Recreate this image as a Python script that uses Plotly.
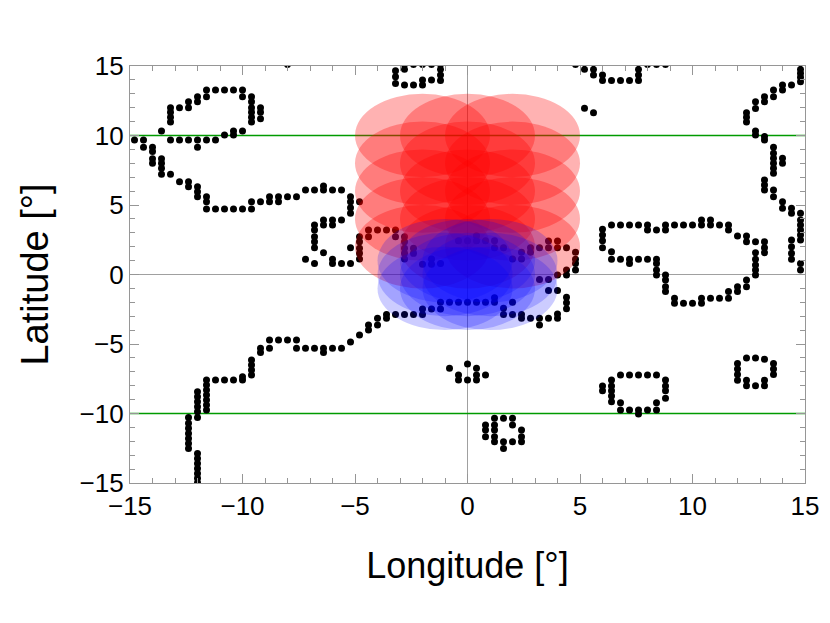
import plotly.graph_objects as go

# ---------------- data (lon, lat) in degrees ----------------
upper_left_loop = [(-11.6,13.27),(-11.2,13.27),(-10.8,13.27),(-10.4,13.27),(-10.0,13.27),
    (-11.6,12.79),(-10.0,12.79),(-9.6,12.79),(-12.0,12.79),(-12.0,12.43),
    (-12.4,12.43),(-12.4,12.0),(-12.8,12.0),(-13.2,12.0),(-13.2,11.67),(-13.2,11.31),(-13.2,10.97),
    (-13.6,10.32),(-9.6,12.43),(-9.6,12.0),(-9.6,11.67),(-9.6,11.31),(-9.6,10.97),
    (-9.2,12.0),(-9.2,11.67),(-9.2,11.2),(-10.0,10.32),(-10.4,10.32),(-10.4,10.04),(-10.8,10.04),
    (-13.2,9.68),(-12.8,9.68),(-12.4,9.68),(-12.0,9.68),(-12.0,9.15),(-11.6,9.68),(-11.2,9.68)]

left_coast_north = [(-14.8,9.68),(-14.4,9.68),(-14.4,9.15),(-14.0,9.15),(-14.0,8.84),(-14.0,8.33),
    (-14.0,8.0),(-13.6,8.33),(-13.6,8.0),(-13.6,7.64),(-13.6,7.21),(-13.2,7.21),(-12.8,6.68),
    (-12.4,6.68),(-12.4,6.32),(-12.0,6.32),(-12.0,5.96),(-12.0,5.6),(-11.6,5.6),(-11.6,5.24),
    (-11.6,4.71),(-11.2,4.71),(-10.8,4.71),(-10.4,4.71),(-10.0,4.71),(-9.6,4.71),(-9.6,5.24),
    (-9.2,5.24),(-8.8,5.6),(-8.8,5.24),(-8.4,5.6),(-8.4,5.24),(-8.0,5.6),(-7.6,5.6),(-7.2,6.08),
    (-6.8,6.08),(-6.4,6.37),(-6.4,6.08),(-6.0,6.08),(-5.6,6.08),(-5.2,5.6),(-5.2,5.24),(-5.2,4.8),
    (-5.2,4.4),(-4.8,5.24),(-8.0,15.1)]

small_ring_west = [(-7.2,1.09),(-6.8,3.56),(-6.8,3.2),(-6.8,2.72),(-6.8,2.36),(-6.8,1.93),(-6.8,0.8),
    (-6.4,3.92),(-6.4,3.56),(-6.4,1.57),(-6.0,3.92),(-6.0,3.56),(-6.0,1.09),(-6.0,0.8),
    (-5.6,3.92),(-5.6,0.8),(-5.2,0.8),(-5.2,1.93)]

central_north = [(-4.8,2.72),(-4.8,2.36),(-4.8,1.88),(-4.8,1.52),(-4.8,1.12),(-4.4,3.2),(-4.4,2.72),
    (-4.0,3.2),(-3.6,3.2),(-3.2,3.2),(-3.2,2.72),(-2.8,2.72),(-2.8,2.36),(-2.8,1.88),(-2.8,1.52),
    (-2.8,1.12),(-2.4,1.88),(-2.4,1.52),(-2.0,0.73),(-1.6,0.73),(-1.6,1.12),(-1.2,0.8),
    (-0.4,2.43),(0.0,2.43),(0.4,2.43),(0.4,2.79),(0.8,2.43),(1.2,2.43),(1.2,1.93),(1.6,1.93),
    (2.0,1.12),(2.4,1.12),(2.4,1.6),(2.8,1.6),(2.8,1.93),(3.2,1.93),(3.6,1.93),(3.6,2.41),
    (4.0,1.93),(4.0,2.41),(4.4,1.93),(4.8,1.6),(4.8,1.09),(4.8,0.8),(4.8,0.32),(4.4,0.32),
    (4.4,-0.04),(4.0,-0.04),(3.6,-0.36),(3.2,-0.36),(3.6,-1.15),(4.0,-1.15)]

central_south = [(4.4,-1.63),(4.4,-2.03),(4.4,-2.47),(4.0,-2.85),(4.0,-3.15),(3.6,-3.15),(3.2,-3.15),
    (3.2,-3.63),(2.8,-3.15),(2.4,-3.15),(2.4,-2.87),(2.0,-2.87),(1.6,-2.87),(1.6,-2.43),
    (2.0,-2.0),(1.2,-1.67),(1.2,-2.0),(0.8,-2.0),(0.4,-2.0),(0.0,-2.0),(-0.4,-2.0),(-0.8,-2.0),
    (-1.2,-2.0),(-1.2,-2.48),(-1.6,-2.48),(-2.0,-2.48),(-2.0,-2.87),(-2.4,-2.87),(-2.8,-2.87),
    (-3.2,-2.87),(-3.6,-2.87),(-3.6,-3.15),(-4.0,-3.15),(-4.0,-3.63),(-4.4,-3.63),(-4.4,-3.99),
    (-4.8,-4.35),(-5.2,-4.85)]

left_coast_south = [(-5.6,-5.31),(-6.0,-5.31),(-6.4,-5.31),(-6.4,-5.62),(-6.8,-5.31),(-7.2,-5.31),
    (-7.6,-5.31),(-7.6,-4.71),(-8.0,-4.71),(-8.4,-4.71),(-8.8,-4.71),(-8.8,-5.31),(-9.2,-5.31),
    (-9.2,-5.62),(-9.6,-6.15),(-9.6,-6.51),(-9.6,-6.87),(-9.6,-7.23),(-10.0,-7.35),(-10.0,-7.59),
    (-10.4,-7.59),(-10.8,-7.59),(-11.2,-7.59),(-11.6,-7.59),(-11.6,-7.95),(-11.6,-8.31),
    (-11.6,-8.67),(-11.6,-9.03),(-11.6,-9.39),(-11.6,-9.75),(-12.0,-8.43),(-12.0,-8.79),
    (-12.0,-9.15),(-12.0,-9.51),(-12.0,-9.87),(-12.0,-10.28),(-12.4,-10.28),(-12.4,-10.71),
    (-12.4,-11.07),(-12.4,-11.43),(-12.4,-11.79),(-12.4,-12.15),(-12.4,-12.51),(-12.0,-12.87),
    (-12.0,-13.23),(-12.0,-13.59),(-12.0,-13.95),(-12.0,-14.31),(-12.0,-14.66),(-12.0,-14.98)]

top_center = [(-3.2,14.66),(-3.2,14.23),(-3.2,13.75),(-2.8,14.76),(-2.8,13.63),(-2.4,13.63),
    (-2.0,13.99),(-2.0,13.63),(-1.6,13.99),(-1.2,14.76),(-1.2,14.35),(-1.2,13.95),
    (-2.8,15.1),(-2.4,15.1),(-2.0,15.1),(-1.6,15.1),(-1.2,15.1)]

top_east = [(5.2,14.76),(5.6,14.76),(5.6,14.35),(6.0,14.35),(6.0,13.95),(6.4,13.95),(6.8,13.95),
    (7.2,13.95),(7.6,14.76),(7.6,14.35),(7.6,13.95),(5.2,11.96),(5.6,11.64),
    (4.8,15.1),(8.0,15.1),(8.4,15.1),(8.8,15.1)]

east_ring = [(6.0,3.25),(6.0,2.84),(6.0,2.43),(6.0,1.93),
    (6.4,3.56),(6.8,3.56),(7.2,3.56),(7.6,3.56),(8.0,3.56),(8.0,3.2),(8.4,3.2),(8.8,3.56),
    (8.8,3.2),(9.2,3.56),(9.6,3.56),(10.0,3.56),(10.4,3.92),(10.4,3.56),(10.8,3.92),(10.8,3.56),
    (11.2,3.56),(11.6,3.56),(11.6,3.2),(12.0,2.77),(12.4,2.77),(12.4,2.36),(12.8,2.36),
    (13.2,2.36),(13.2,1.93),(13.2,1.57),
    (6.4,1.64),(6.4,1.09),(6.8,1.09),(7.2,1.09),(7.2,0.8),(7.6,1.09),(8.0,1.09),(8.4,1.09),
    (8.4,0.8),(8.4,0.32),(8.4,-0.04),(8.8,-0.04),(8.8,-0.4),(8.8,-0.88),(8.8,-1.23),(9.2,-1.71),
    (9.2,-2.07),(9.6,-2.07),(10.0,-2.07),(10.4,-1.71),(10.4,-2.07),(10.8,-1.71),(11.2,-1.71),
    (11.6,-1.71),(11.6,-1.23),(12.0,-0.88),(12.0,-1.23),(12.4,-0.4),(12.4,-0.88),(12.8,-0.04),
    (12.8,0.32),(12.8,0.68),(12.8,1.09),(12.8,1.57)]

east_edge = [(14.8,14.76),(14.8,14.47),(14.8,14.19),(14.8,13.87),(14.4,13.63),(14.0,13.63),
    (14.0,13.27),(13.6,13.27),(13.6,12.79),(13.2,12.79),(13.2,12.43),(12.8,12.43),(12.8,11.95),
    (12.4,11.64),(12.4,11.31),(12.4,10.97),(12.8,10.32),(12.8,10.04),(13.2,9.92),(13.2,9.68),
    (13.6,9.15),(13.6,8.72),(13.6,8.36),(13.6,8.0),(13.6,7.64),(13.6,7.28),(14.0,8.36),(14.0,8.0),
    (13.2,6.8),(13.2,6.44),(13.2,6.08),(13.6,6.08),(13.6,5.6),(14.0,5.24),(14.0,4.76),(14.4,4.76),
    (14.4,4.4),(14.8,4.4),(14.8,3.92),(14.8,3.56),(14.8,3.2),(14.8,2.84),(14.8,2.48),(14.4,2.48),
    (14.4,2.0),(14.4,1.52),(14.4,1.09),(14.8,0.8),(14.8,0.32)]

south_cluster = [(-0.8,-6.75),(-0.4,-7.23),(-0.4,-7.59),(0.0,-6.44),(0.0,-7.59),(0.4,-6.75),
    (0.4,-7.23),(0.4,-7.59),(0.8,-7.23)]

south_loop = [(1.2,-10.35),(1.6,-10.35),(2.0,-10.35),(2.0,-10.83),(0.8,-10.83),(0.8,-11.19),
    (0.8,-11.67),(1.2,-10.83),(1.2,-11.19),(1.2,-11.67),(1.2,-12.03),(1.6,-12.03),(1.6,-12.51),
    (2.0,-12.03),(2.4,-11.19),(2.4,-11.67),(2.4,-12.03)]

southeast_loop = [(6.0,-8.02),(6.0,-8.36),(6.4,-7.59),(6.4,-8.02),(6.4,-8.36),(6.4,-8.74),
    (6.4,-9.15),(6.8,-7.23),(7.2,-7.23),(7.6,-7.23),(8.0,-7.23),(8.4,-7.23),(8.8,-7.59),
    (8.8,-8.02),(8.8,-8.36),(8.8,-8.91),(8.4,-9.22),(8.4,-9.75),(8.0,-9.75),(7.6,-9.75),
    (7.6,-10.04),(7.2,-9.75),(6.8,-9.75),(6.8,-9.22)]

far_east_loop = [(12.0,-6.4),(12.0,-6.8),(12.0,-7.2),(12.0,-7.6),(12.4,-6.0),(12.8,-6.0),
    (13.2,-6.1),(13.6,-6.4),(13.6,-6.8),(13.6,-7.2),(13.2,-7.6),(13.2,-8.0),(12.8,-8.0),
    (12.4,-8.0),(12.4,-7.6)]

red_center_lon = [-2, 0, 2]
red_center_lat = [2, 4, 6, 8, 10]
red_radius = 3
blue_center_lon = [-1, 0, 1]
blue_center_lat = [1, 0, -1]
blue_radius = 3
green_lat = [10, -10]

groups = [upper_left_loop, left_coast_north, small_ring_west, central_north, central_south,
          left_coast_south, top_center, top_east, east_ring, east_edge, south_cluster,
          south_loop, southeast_loop, far_east_loop]
lons = [p[0] for g in groups for p in g]
lats = [p[1] for g in groups for p in g]

fig = go.Figure()
fig.add_trace(go.Scatter(x=lons, y=lats, mode="markers",
                         marker=dict(color="black", size=7), showlegend=False,
                         hoverinfo="skip"))

shapes = []
shapes.append(dict(type="line", xref="x", yref="y", x0=0, x1=0, y0=-15, y1=15,
                   line=dict(color="rgb(160,160,160)", width=1), layer="below"))
shapes.append(dict(type="line", xref="x", yref="y", x0=-15, x1=15, y0=0, y1=0,
                   line=dict(color="rgb(160,160,160)", width=1), layer="below"))
for gl in green_lat:
    shapes.append(dict(type="line", xref="x", yref="y", x0=-15, x1=15, y0=gl, y1=gl,
                       line=dict(color="rgb(0,155,0)", width=1.6), layer="below"))
for cy in red_center_lat:
    for cx in red_center_lon:
        shapes.append(dict(type="circle", xref="x", yref="y",
                           x0=cx - red_radius, x1=cx + red_radius,
                           y0=cy - red_radius, y1=cy + red_radius,
                           fillcolor="rgba(255,0,0,0.3)", line=dict(width=0), layer="above"))
for cy in blue_center_lat:
    for cx in blue_center_lon:
        shapes.append(dict(type="circle", xref="x", yref="y",
                           x0=cx - blue_radius, x1=cx + blue_radius,
                           y0=cy - blue_radius, y1=cy + blue_radius,
                           fillcolor="rgba(0,0,255,0.2)", line=dict(width=0), layer="above"))

axis_common = dict(range=[-15, 15], tickvals=[-15, -10, -5, 0, 5, 10, 15],
                   ticks="inside", ticklen=9, tickwidth=1, tickcolor="rgb(150,150,150)",
                   minor=dict(ticks="inside", dtick=1, ticklen=5, tickcolor="rgb(150,150,150)"),
                   showline=True, linecolor="rgb(150,150,150)", linewidth=1.2, mirror="allticks",
                   showgrid=False, zeroline=False,
                   tickfont=dict(family="Liberation Sans, Arial", size=26, color="black"))

fig.update_layout(
    width=830, height=623,
    margin=dict(l=122, r=33, t=58, b=148),
    paper_bgcolor="white", plot_bgcolor="white",
    shapes=shapes,
    xaxis=dict(**axis_common,
               title=dict(text="Longitude [°]", standoff=32,
                          font=dict(family="Liberation Sans, Arial", size=36, color="black"))),
    yaxis=dict(**axis_common,
               title=dict(text="Latitude [°]", standoff=19,
                          font=dict(family="Liberation Sans, Arial", size=38, color="black"))),
)

fig.write_html("out.html")
